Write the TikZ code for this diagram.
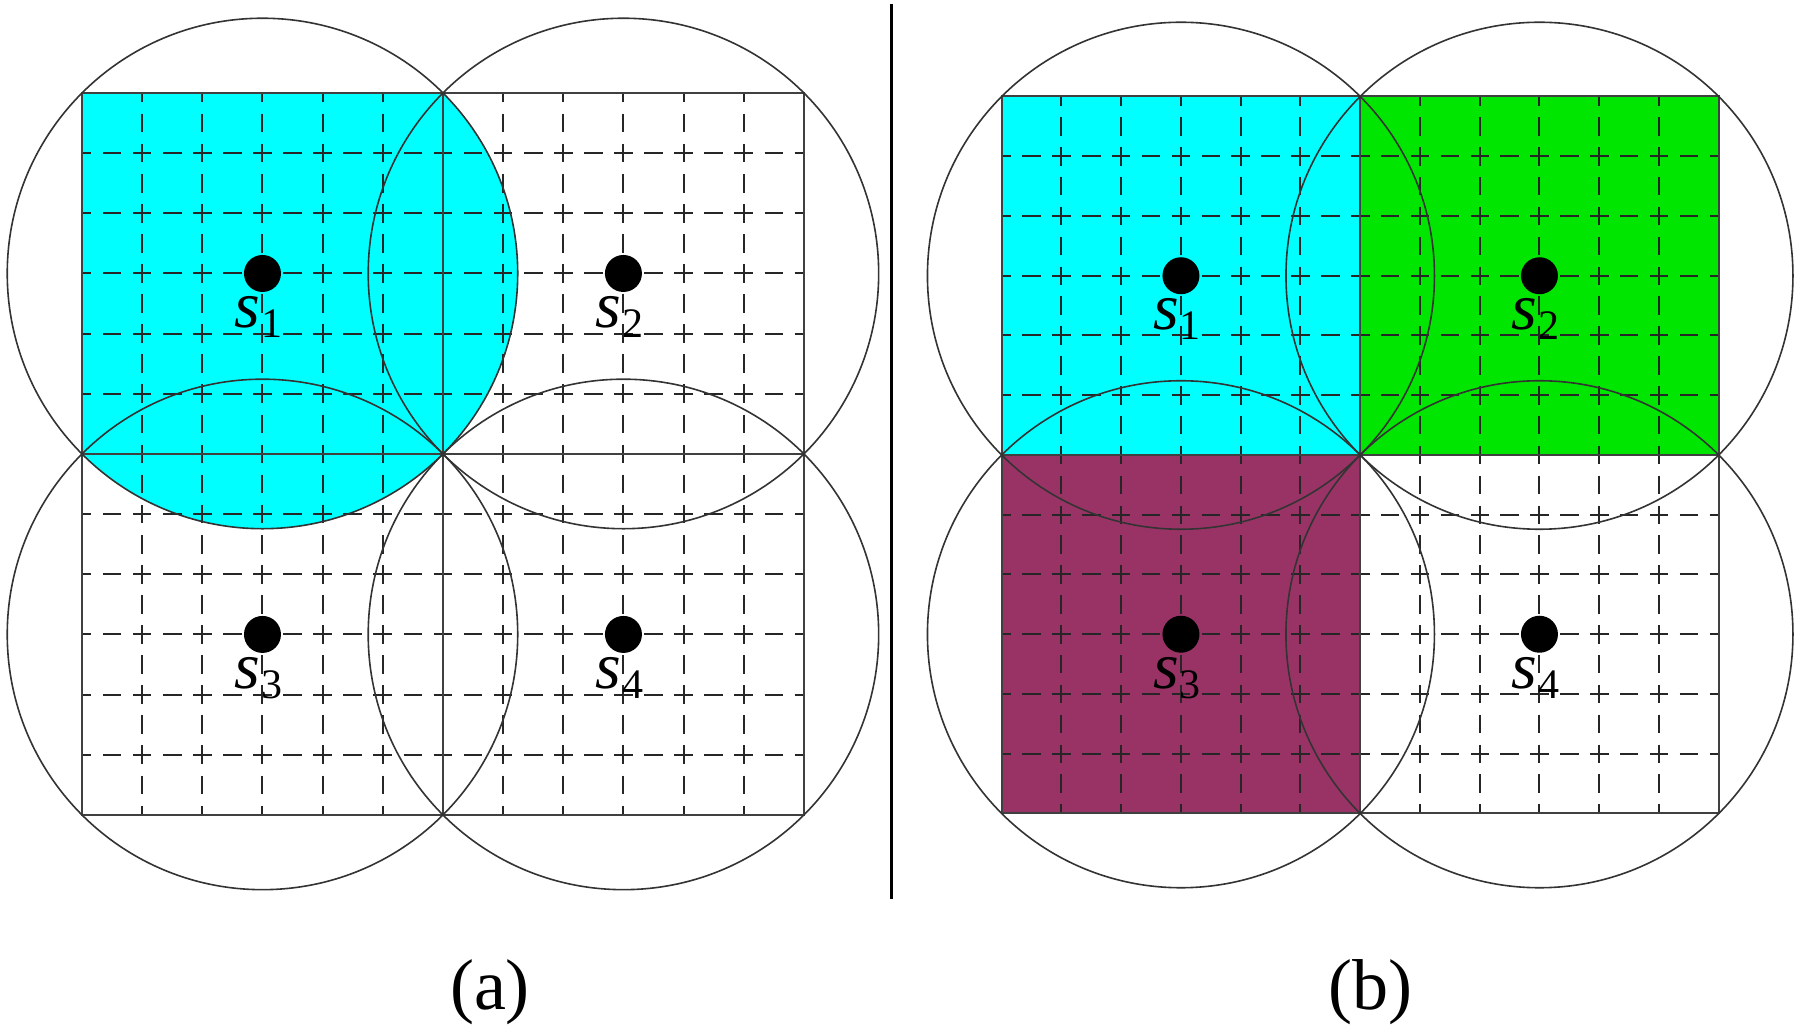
\documentclass[tikz,border=0pt]{standalone}
\usepackage{fontspec}
\setmainfont{Liberation Serif}
\definecolor{cyanfill}{RGB}{0,255,255}
\definecolor{greenfill}{RGB}{0,230,0}
\definecolor{maroonfill}{RGB}{153,51,102}
\newcommand{\slabel}[1]{{\fontsize{33}{33}\selectfont\itshape s\kern0.3pt\raisebox{-5pt}{\fontsize{21}{21}\selectfont\upshape #1}}}
\tikzset{
  gridline/.style={line width=1pt, black!85},
  boundline/.style={line width=1pt, black!75},
  rangecircle/.style={line width=0.8pt, black!80},
  sensordot/.style={circle, fill=black, inner sep=0pt, minimum size=18.5pt},
  sensorlabel/.style={anchor=base, inner sep=0pt, yshift=-27pt, xshift=-2pt},
  caption/.style={anchor=base, inner sep=0pt, font=\fontsize{36}{36}\selectfont}
}
\newcommand{\panelgrid}[1]{%
  % #1 = half-cell length in pt
  \foreach \i in {1,...,5,7,8,...,11}{
    \draw[gridline, dash pattern=on {0.62*#1 pt} off {0.38*#1 pt}, dash phase={0.31*#1 pt}] (\i,0) -- (\i,12);
    \draw[gridline, dash pattern=on {0.62*#1 pt} off {0.38*#1 pt}, dash phase={0.31*#1 pt}] (0,\i) -- (12,\i);
  }
  \draw[boundline] (6,0) -- (6,12);
  \draw[boundline] (0,6) -- (12,6);
  \draw[boundline] (0,0) rectangle (12,12);
}
\begin{document}
\begin{tikzpicture}[x=0.5pt,y=-0.5pt]
\useasboundingbox (0,0) rectangle (1801,1036);

% ---------- panel (a) ----------
\begin{scope}[shift={(82,93)}, x=30.08pt, y=-30.08pt]
  \begin{scope}
    \clip (0,0) rectangle (12,12);
    \fill[cyanfill] (3,3) circle (4.2426);
  \end{scope}
  \panelgrid{15.04}
  \foreach \p in {(3,3),(9,3),(3,9),(9,9)}{
    \draw[rangecircle] \p circle (4.2426);
  }
  \node[sensordot] (a1) at (3,3) {};
  \node[sensordot] (a2) at (9,3) {};
  \node[sensordot] (a3) at (3,9) {};
  \node[sensordot] (a4) at (9,9) {};
  \node[sensorlabel] (la1) at (a1.center) {\slabel{1}};
  \node[sensorlabel] (la2) at (a2.center) {\slabel{2}};
  \node[sensorlabel] (la3) at (a3.center) {\slabel{3}};
  \node[sensorlabel] (la4) at (a4.center) {\slabel{4}};
\end{scope}

% ---------- divider ----------
\coordinate (divtop) at (891.7,4);
\coordinate (divbot) at (891.7,899);
\draw[line width=1.4pt, black] (divtop) -- (divbot);

% ---------- panel (b) ----------
\begin{scope}[shift={(1001.7,96.5)}, x=29.875pt, y=-29.875pt]
  \fill[cyanfill] (0,0) rectangle (6,6);
  \fill[greenfill] (6,0) rectangle (12,6);
  \fill[maroonfill] (0,6) rectangle (6,12);
  \panelgrid{14.94}
  \foreach \p in {(3,3),(9,3),(3,9),(9,9)}{
    \draw[rangecircle] \p circle (4.2426);
  }
  \node[sensordot] (b1) at (3,3) {};
  \node[sensordot] (b2) at (9,3) {};
  \node[sensordot] (b3) at (3,9) {};
  \node[sensordot] (b4) at (9,9) {};
  \node[sensorlabel] (lb1) at (b1.center) {\slabel{1}};
  \node[sensorlabel] (lb2) at (b2.center) {\slabel{2}};
  \node[sensorlabel] (lb3) at (b3.center) {\slabel{3}};
  \node[sensorlabel] (lb4) at (b4.center) {\slabel{4}};
\end{scope}

% ---------- captions ----------
\node[caption] (capa) at (490,1010) {(a)};
\node[caption] (capb) at (1370,1010) {(b)};
\end{tikzpicture}
\end{document}
